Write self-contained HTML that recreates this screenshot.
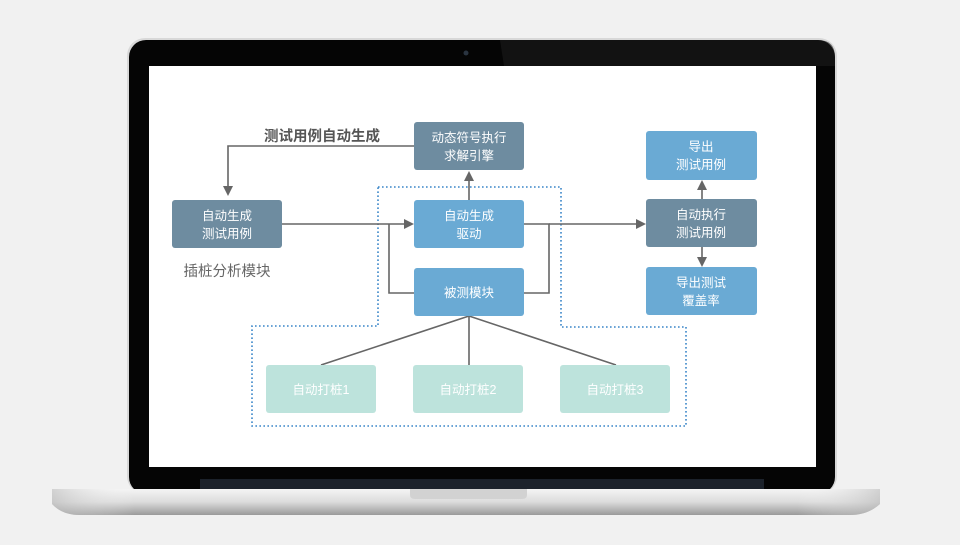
<!DOCTYPE html>
<html><head><meta charset="utf-8"><style>
body{margin:0;width:960px;height:540px;background:#f1f1f1;overflow:hidden;font-family:"Liberation Sans","Noto Sans CJK SC",sans-serif;}
</style></head><body>
<svg width="960" height="540" viewBox="0 0 960 540" xmlns="http://www.w3.org/2000/svg" font-family="Liberation Sans, Noto Sans CJK SC, sans-serif">
<defs>
<linearGradient id="base" x1="0" y1="0" x2="0" y2="1"><stop offset="0" stop-color="#f4f4f4"/><stop offset="0.5" stop-color="#dcdcdc"/><stop offset="1" stop-color="#9a9a9a"/></linearGradient>
<linearGradient id="baseh" x1="0" y1="0" x2="1" y2="0"><stop offset="0" stop-color="#bbb" stop-opacity="0.6"/><stop offset="0.1" stop-color="#fff" stop-opacity="0"/><stop offset="0.9" stop-color="#fff" stop-opacity="0"/><stop offset="1" stop-color="#bbb" stop-opacity="0.6"/></linearGradient>
<marker id="ar" markerWidth="10" markerHeight="10" refX="8" refY="5" orient="auto" markerUnits="userSpaceOnUse"><path d="M0,0 L10,5 L0,10 z" fill="#666"/></marker>
</defs>
<rect x="127" y="38" width="710" height="456" rx="18" fill="#d8d8d8"/>
<rect x="129" y="40" width="706" height="454" rx="17" fill="#050505"/>
<path d="M500 40 L818 40 Q835 40 835 57 L835 66 L504 66 Z" fill="#1a1a1a" opacity="0.6"/>
<circle cx="466" cy="53" r="2.5" fill="#2a3440"/>
<rect x="149" y="66" width="667" height="401" fill="#fff"/>
<rect x="200" y="479" width="564" height="10" fill="#1c222b"/>
<path d="M52 489 L880 489 L880 504 Q868 515 850 515 L80 515 Q62 515 52 504 Z" fill="url(#base)"/>
<path d="M52 489 L880 489 L880 504 Q868 515 850 515 L80 515 Q62 515 52 504 Z" fill="url(#baseh)"/>
<path d="M410 489 L527 489 L527 495 Q527 499 522 499 L415 499 Q410 499 410 495 Z" fill="#d2d2d2"/>

<path d="M378 187 H561 V327 H686 V426 H252 V326 H378 Z" fill="none" stroke="#3a86c8" stroke-width="1.6" stroke-dasharray="1.6 2.4"/>

<g stroke="#666" stroke-width="1.6" fill="none">
<path d="M414 146 H228 V194" marker-end="url(#ar)"/>
<path d="M282 224 H412" marker-end="url(#ar)"/>
<path d="M389 224 V293 H414"/>
<path d="M524 224 H549 V293 H524"/>
<path d="M549 224 H644" marker-end="url(#ar)"/>
<path d="M469 200 V173" marker-end="url(#ar)"/>
<path d="M702 199 V182" marker-end="url(#ar)"/>
<path d="M702 247 V265" marker-end="url(#ar)"/>
<path d="M469 316 L321 365 M469 316 V365 M469 316 L616 365"/>
</g>

<g font-size="12.5" fill="#fff" text-anchor="middle">
<rect x="414" y="122" width="110" height="48" rx="3" fill="#6e8ca0"/>
<text x="469" y="142">动态符号执行</text><text x="469" y="160">求解引擎</text>
<rect x="172" y="200" width="110" height="48" rx="3" fill="#6e8ca0"/>
<text x="227" y="220">自动生成</text><text x="227" y="238">测试用例</text>
<rect x="414" y="200" width="110" height="48" rx="3" fill="#6aaad4"/>
<text x="469" y="220">自动生成</text><text x="469" y="238">驱动</text>
<rect x="414" y="268" width="110" height="48" rx="3" fill="#6aaad4"/>
<text x="469" y="297">被测模块</text>
<rect x="646" y="131" width="111" height="49" rx="3" fill="#6aaad4"/>
<text x="701" y="151">导出</text><text x="701" y="169">测试用例</text>
<rect x="646" y="199" width="111" height="48" rx="3" fill="#6e8ca0"/>
<text x="701" y="219">自动执行</text><text x="701" y="237">测试用例</text>
<rect x="646" y="267" width="111" height="48" rx="3" fill="#6aaad4"/>
<text x="701" y="287">导出测试</text><text x="701" y="305">覆盖率</text>
<rect x="266" y="365" width="110" height="48" rx="3" fill="#bde3dc"/>
<text x="321" y="394">自动打桩1</text>
<rect x="413" y="365" width="110" height="48" rx="3" fill="#bde3dc"/>
<text x="468" y="394">自动打桩2</text>
<rect x="560" y="365" width="110" height="48" rx="3" fill="#bde3dc"/>
<text x="615" y="394">自动打桩3</text>
</g>
<text x="322" y="141" font-size="14.5" font-weight="bold" fill="#555" text-anchor="middle">测试用例自动生成</text>
<text x="227" y="276" font-size="14.5" fill="#666" text-anchor="middle">插桩分析模块</text>
</svg>
</body></html>
